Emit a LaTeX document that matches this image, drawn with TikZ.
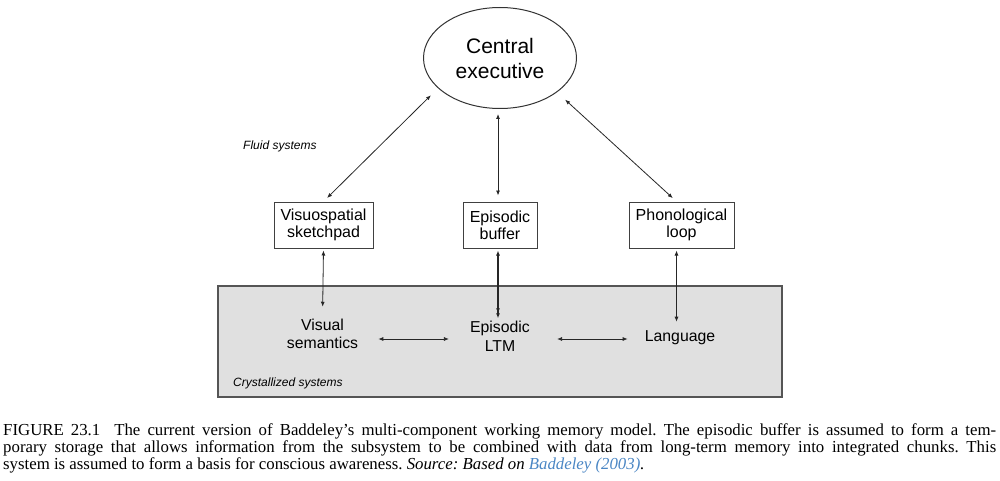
\documentclass[tikz,border=0pt]{standalone}
\usepackage{fontspec}
\setmainfont{Liberation Serif}
\newfontfamily\arialf{Liberation Sans}
\usetikzlibrary{shapes.geometric,arrows.meta}
\definecolor{panelgray}{RGB}{224,224,224}
\definecolor{paneledge}{RGB}{85,85,85}
\definecolor{linkblue}{RGB}{74,134,196}
\begin{document}
\begin{tikzpicture}[x=1pt,y=-1pt,
  arr/.style={{Latex[length=5pt,width=4pt]}-{Latex[length=5pt,width=4pt]}, line width=0.8pt, black!85},
  compbox/.style={draw=black!75, line width=1pt, align=center, minimum height=46pt, inner sep=0pt,
    font=\arialf\fontsize{16}{17}\selectfont},
  inlabel/.style={align=center, inner sep=0pt, font=\arialf\fontsize{15.8}{18.5}\selectfont},
  syslabel/.style={anchor=west, inner sep=0pt, font=\arialf\itshape\fontsize{12}{14}\selectfont}
]
\useasboundingbox (0,0) rectangle (1000,481);

% crystallized panel
\node[draw=paneledge, fill=panelgray, line width=1.4pt, minimum width=564pt, minimum height=111pt, inner sep=0pt] (panel) at (500,341.5) {};

% central executive
\node[ellipse, draw=black!80, line width=1pt, minimum width=153pt, minimum height=101pt, inner sep=0pt,
  align=center, font=\arialf\fontsize{21}{25}\selectfont] (ce) at (500,58) {Central\\executive};

% fluid components
\node[compbox, minimum width=99pt] (vs) at (323.5,225) {Visuospatial\\sketchpad};
\node[compbox, minimum width=74pt] (eb) at (500,225) {Episodic\\buffer};
\node[compbox, minimum width=105pt] (pl) at (681.5,225) {Phonological\\loop};

\node[syslabel] (fluid) at (243,146) {Fluid systems};
\node[syslabel] (cryst) at (233,383) {Crystallized systems};

% crystallized components
\node[inlabel] (vsem) at (322.5,334) {Visual\\semantics};
\node[inlabel] (eltm) at (500,336.5) {Episodic\\LTM};
\node[inlabel] (lang) at (680,338) {Language};

% arrows to central executive
\draw[arr, shorten <=5pt, shorten >=10pt] (vs.north) -- (ce.206.6);
\draw[arr, shorten <=6pt, shorten >=5pt] ([xshift=-2pt]eb.north) -- ([xshift=-2pt]ce.south);
\draw[arr, shorten <=11pt, shorten >=5pt] (ce.329.8) -- ([xshift=-5pt]pl.north);

% arrows to crystallized components
\draw[arr, shorten <=2pt, shorten >=12pt] (vs.south) -- (vsem.north);
\draw[{Latex[length=5pt,width=4pt]}-{Latex[length=5pt,width=4pt]Latex[length=5pt,width=4pt]}, line width=1.4pt, black!85, shorten <=2pt, shorten >=3pt]
  ([xshift=-2pt]eb.south) -- ([xshift=-2pt]eltm.north);
\draw[arr, shorten <=2pt, shorten >=9pt] ([xshift=-5pt]pl.south) -- ([xshift=-3.5pt]lang.north);

% horizontal arrows
\draw[arr, shorten <=20pt, shorten >=21pt] ([yshift=-5pt]vsem.east) -- ([yshift=-2.5pt]eltm.west);
\draw[arr, shorten <=27pt, shorten >=17pt] ([yshift=-2.5pt]eltm.east) -- ([yshift=-1pt]lang.west);

% caption
\node[anchor=north west, inner sep=0pt, text width=993pt, align=justify,
  font=\fontsize{16.8}{17}\selectfont] (cap) at (3,423)
  {\frenchspacing\hyphenpenalty=10000 FIGURE 23.1\hspace{14pt}The current version of Baddeley’s multi-component working memory model. The episodic buffer is assumed to form a tem-\linebreak porary storage that allows information from the subsystem to be combined with data from long-term memory into integrated chunks. This\linebreak system is assumed to form a basis for conscious awareness. \textit{Source: Based on \textcolor{linkblue}{Baddeley (2003)}.}};
\end{tikzpicture}
\end{document}
